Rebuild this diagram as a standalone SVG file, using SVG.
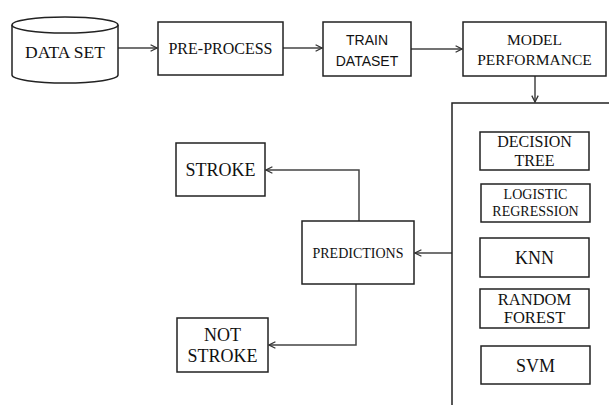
<svg xmlns="http://www.w3.org/2000/svg" width="609" height="405" viewBox="0 0 609 405">
<defs>
<marker id="arr" viewBox="0 0 10 10" refX="9" refY="5" markerWidth="8" markerHeight="8" markerUnits="userSpaceOnUse" orient="auto">
<path d="M1,1 L9,5 L1,9" fill="none" stroke="#333" stroke-width="1.6"/>
</marker>
<style>
.box{fill:#fff;stroke:#222;stroke-width:1.5}
.t{font-family:"Liberation Serif","Times New Roman",serif;fill:#111;text-anchor:middle}
.s{font-family:"Liberation Sans",Arial,sans-serif;fill:#111;text-anchor:middle}
.c{fill:none;stroke:#444;stroke-width:1.5}
</style>
</defs>
<rect width="609" height="405" fill="#fff"/>
<g id="connectors">
<line class="c" x1="118" y1="48" x2="157" y2="48" marker-end="url(#arr)"/>
<line class="c" x1="283" y1="48" x2="322" y2="48" marker-end="url(#arr)"/>
<line class="c" x1="411" y1="49" x2="462" y2="49" marker-end="url(#arr)"/>
<line class="c" x1="535" y1="76" x2="535" y2="102" marker-end="url(#arr)"/>
<line class="c" x1="452" y1="253" x2="415" y2="253" marker-end="url(#arr)"/>
<polyline class="c" points="359,221 359,170 266,170" marker-end="url(#arr)"/>
<polyline class="c" points="356,284 356,345 269,345" marker-end="url(#arr)"/>
</g>
<g id="dataset">
<path class="box" d="M12,25 L12,75 A53,8 0 0 0 118,75 L118,25"/>
<ellipse class="box" cx="65" cy="25" rx="53" ry="8"/>
<text class="t" x="65" y="58" font-size="17.5">DATA SET</text>
</g>
<g id="preprocess">
<rect class="box" x="158" y="22" width="125" height="53"/>
<text class="t" x="220.5" y="54" font-size="16">PRE-PROCESS</text>
</g>
<g id="train">
<rect class="box" x="323" y="22" width="88" height="54"/>
<text class="s" x="367" y="45" font-size="14">TRAIN</text>
<text class="s" x="367" y="66" font-size="14">DATASET</text>
</g>
<g id="model">
<rect class="box" x="463" y="22" width="143" height="54"/>
<text class="t" x="534.5" y="45" font-size="15.5">MODEL</text>
<text class="t" x="534.5" y="65" font-size="15.5">PERFORMANCE</text>
</g>
<g id="models">
<rect class="box" x="452" y="103" width="170" height="310"/>
</g>
<g id="dt">
<rect class="box" x="480" y="132" width="109" height="38"/>
<text class="t" x="534.5" y="147" font-size="16">DECISION</text>
<text class="t" x="534.5" y="166" font-size="16">TREE</text>
</g>
<g id="lr">
<rect class="box" x="481" y="184" width="109" height="38"/>
<text class="t" x="535.5" y="199" font-size="14">LOGISTIC</text>
<text class="t" x="535.5" y="216" font-size="14">REGRESSION</text>
</g>
<g id="knn">
<rect class="box" x="480" y="238" width="109" height="39"/>
<text class="t" x="534.5" y="264" font-size="18">KNN</text>
</g>
<g id="rf">
<rect class="box" x="480" y="289" width="109" height="39"/>
<text class="t" x="534.5" y="305" font-size="16.5">RANDOM</text>
<text class="t" x="534.5" y="323" font-size="16.5">FOREST</text>
</g>
<g id="svm">
<rect class="box" x="481" y="346" width="109" height="38"/>
<text class="t" x="535.5" y="372" font-size="18">SVM</text>
</g>
<g id="predictions">
<rect class="box" x="302" y="221" width="112" height="63"/>
<text class="t" x="358" y="258" font-size="14">PREDICTIONS</text>
</g>
<g id="stroke">
<rect class="box" x="176" y="143" width="89" height="53"/>
<text class="t" x="220.5" y="176" font-size="18">STROKE</text>
</g>
<g id="notstroke">
<rect class="box" x="177" y="318" width="91" height="54"/>
<text class="t" x="222.5" y="341" font-size="18">NOT</text>
<text class="t" x="222.5" y="362" font-size="18">STROKE</text>
</g>
</svg>
